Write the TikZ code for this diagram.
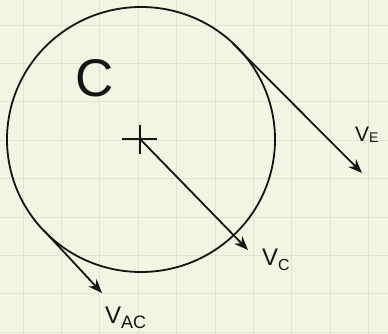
\documentclass[tikz,border=0pt]{standalone}
\usepackage{fontspec}
\setmainfont{Liberation Sans}
\usetikzlibrary{arrows.meta}
\definecolor{paper}{HTML}{F3F5E2}
\definecolor{gridc}{HTML}{DDE4D4}
\definecolor{ink}{HTML}{141414}
\tikzset{
  gridline/.style={draw=gridc, line width=0.9pt},
  inkline/.style={draw=ink, line width=1.8pt},
  vec/.style={inkline, -{Stealth[length=14pt,width=11pt]}},
  lbl/.style={inner sep=0pt, anchor=base west, text=ink},
}
\begin{document}
\begin{tikzpicture}[x=1pt,y=-1pt]
\fill[paper] (0,0) rectangle (388,334);
\useasboundingbox (0,0) rectangle (388,334);
\foreach \i in {0,...,9} \draw[gridline] ({23+38.4*\i},0) -- ++(0,334);
\foreach \i in {0,...,8} \draw[gridline] (0,{25+38.4*\i}) -- ++(388,0);
% circle
\coordinate (O) at (141,139.5);
\draw[inkline] (O) ellipse [x radius=134, y radius=132.5];
% centre cross
\coordinate (h1) at (122,139);
\coordinate (h2) at (157,139);
\coordinate (v1) at (140,125);
\coordinate (v2) at (140,154);
\draw[inkline] (h1) -- (h2);
\draw[inkline] (v1) -- (v2);
% vectors
\coordinate (c0) at (140,139);
\coordinate (c1) at (248,250);
\draw[vec] (c0) -- (c1);
\coordinate (e0) at (233,43.5);
\coordinate (e1) at (362,173);
\draw[vec] (e0) -- (e1);
\coordinate (a0) at (43.5,230);
\coordinate (a1) at (102,293);
\draw[vec] (a0) -- (a1);
% labels
\node[lbl, font=\fontsize{53}{53}\selectfont] (Clbl) at (75,97) {C};
\node[lbl] (VE) at (355,142) {\fontsize{21}{21}\selectfont V\raisebox{-1pt}{\fontsize{14}{14}\selectfont E}};
\node[lbl] (VC) at (262,265) {\fontsize{24}{24}\selectfont V\raisebox{-5pt}{\fontsize{16}{16}\selectfont C}};
\node[lbl] (VAC) at (105,323) {\fontsize{24}{24}\selectfont V\raisebox{-5pt}{\fontsize{18}{18}\selectfont AC}};
\end{tikzpicture}
\end{document}
